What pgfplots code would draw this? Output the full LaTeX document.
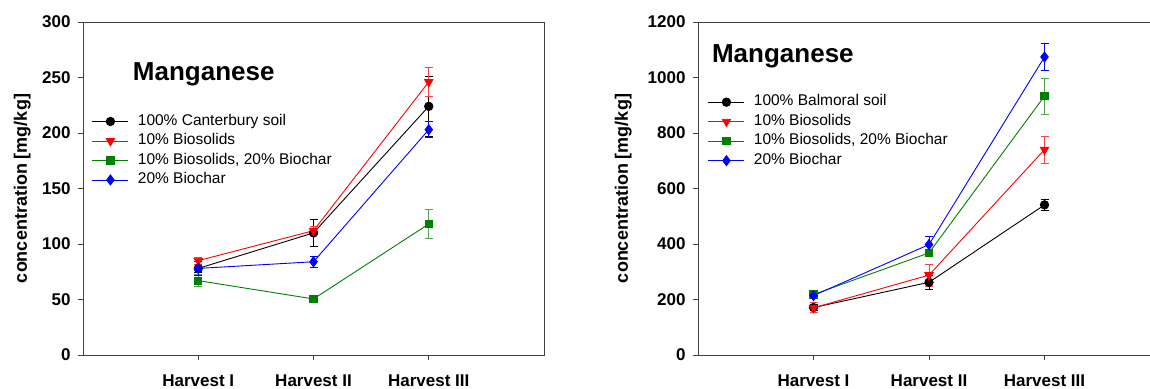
\documentclass[border=0pt]{standalone}
\usepackage{pgfplots}
\pgfplotsset{compat=1.18}
\usepackage{fontspec}
\setmainfont{Liberation Sans}
\pgfplotsset{
  ebar/.style={error bars/y dir=both, error bars/y explicit,
    error bars/error bar style={line width=0.9pt,#1},
    error bars/error mark options={rotate=90, mark size=4pt, line width=0.9pt, #1}},
  common/.style={
    scale only axis, height=333pt,
    xmin=0, xmax=4, ymin=0,
    xtick={1,2,3}, xticklabels={Harvest I, Harvest II, Harvest III},
    tick align=outside, major tick length=5pt,
    xtick pos=bottom, ytick pos=left,
    axis line style={black!75, line width=0.9pt},
    tick style={black!75, line width=0.9pt},
    /pgf/number format/assume math mode=true,
    /pgf/number format/1000 sep={},
    tick label style={font=\fontsize{17}{20}\selectfont\bfseries},
    xticklabel style={yshift=-11pt},
    yticklabel style={xshift=-4pt},
    ylabel={concentration [mg/kg]},
    legend cell align=left,
    legend style={draw=none, fill=none, inner sep=0pt, outer sep=0pt,
      font=\fontsize{15.5}{18}\selectfont, row sep=5pt, column sep=9pt,
      nodes={inner sep=0pt, text height=11pt, text depth=3.5pt, anchor=west}},
    legend image code/.code={\draw[mark repeat=2,mark phase=2] plot coordinates {(0pt,0pt)(18pt,0pt)(36pt,0pt)};},
    every axis plot/.append style={line width=0.9pt},
  },
}
\begin{document}
\begin{tikzpicture}
\path[use as bounding box] (0pt,0pt) rectangle (1150pt,388pt);
% ---------------- left panel ----------------
\begin{axis}[common, at={(83pt,33pt)}, anchor=south west, width=461pt,
  ymax=300, ytick={0,50,100,150,200,250,300},
  every axis y label/.style={at={(axis description cs:-0.132,0.5)}, rotate=90, anchor=center, font=\fontsize{18}{21}\selectfont\bfseries},
  legend style={at={(rel axis cs:0.0195,0.723)}, anchor=north west}]
\addplot[black, mark=*, mark size=4.2pt, mark options={solid,fill=black}, ebar={black}]
  coordinates {(1,78) +- (0,4) (2,110) +- (0,12) (3,224) +- (0,27)};
\addlegendentry{100\% Canterbury soil}
\addplot[red, mark=triangle*, mark size=4.8pt, mark options={solid,fill=red,rotate=180}, ebar={red!75}]
  coordinates {(1,85) +- (0,3) (2,112) +- (0,3.5) (3,246) +- (0,13)};
\addlegendentry{10\% Biosolids}
\addplot[green!50!black, mark=square*, mark size=3.6pt, mark options={solid,fill=green!50!black}, ebar={green!50!black!70}]
  coordinates {(1,67) +- (0,5.4) (2,50.5) +- (0,2) (3,118) +- (0,13)};
\addlegendentry{10\% Biosolids, 20\% Biochar}
\addplot[blue, mark=diamond*, mark size=5pt, mark options={solid,fill=blue}, ebar={blue}]
  coordinates {(1,78) +- (0,6) (2,84) +- (0,4.8) (3,203) +- (0,7)};
\addlegendentry{20\% Biochar}
\node[anchor=west, font=\fontsize{26}{30}\selectfont\bfseries, inner sep=0pt] at (rel axis cs:0.108,0.842) {Manganese};
\end{axis}
% ---------------- right panel ----------------
\begin{axis}[common, at={(698pt,33pt)}, anchor=south west, width=462pt,
  ymax=1200, ytick={0,200,400,600,800,1000,1200},
  every axis y label/.style={at={(axis description cs:-0.162,0.5)}, rotate=90, anchor=center, font=\fontsize{18}{21}\selectfont\bfseries},
  legend style={at={(rel axis cs:0.0216,0.781)}, anchor=north west}]
\addplot[black, mark=*, mark size=4.2pt, mark options={solid,fill=black}, ebar={black}]
  coordinates {(1,171) +- (0,12) (2,262) +- (0,26) (3,541) +- (0,20)};
\addlegendentry{100\% Balmoral soil}
\addplot[red, mark=triangle*, mark size=4.8pt, mark options={solid,fill=red,rotate=180}, ebar={red!75}]
  coordinates {(1,170) +- (0,18) (2,288) +- (0,40) (3,740) +- (0,48)};
\addlegendentry{10\% Biosolids}
\addplot[green!50!black, mark=square*, mark size=3.6pt, mark options={solid,fill=green!50!black}, ebar={green!50!black!70}]
  coordinates {(1,218) +- (0,10) (2,368) +- (0,13) (3,933) +- (0,65)};
\addlegendentry{10\% Biosolids, 20\% Biochar}
\addplot[blue, mark=diamond*, mark size=5pt, mark options={solid,fill=blue}, ebar={blue}]
  coordinates {(1,214) +- (0,10) (2,398) +- (0,29) (3,1074) +- (0,50)};
\addlegendentry{20\% Biochar}
\node[anchor=west, font=\fontsize{26}{30}\selectfont\bfseries, inner sep=0pt] at (rel axis cs:0.030,0.897) {Manganese};
\end{axis}
\end{tikzpicture}
\end{document}
